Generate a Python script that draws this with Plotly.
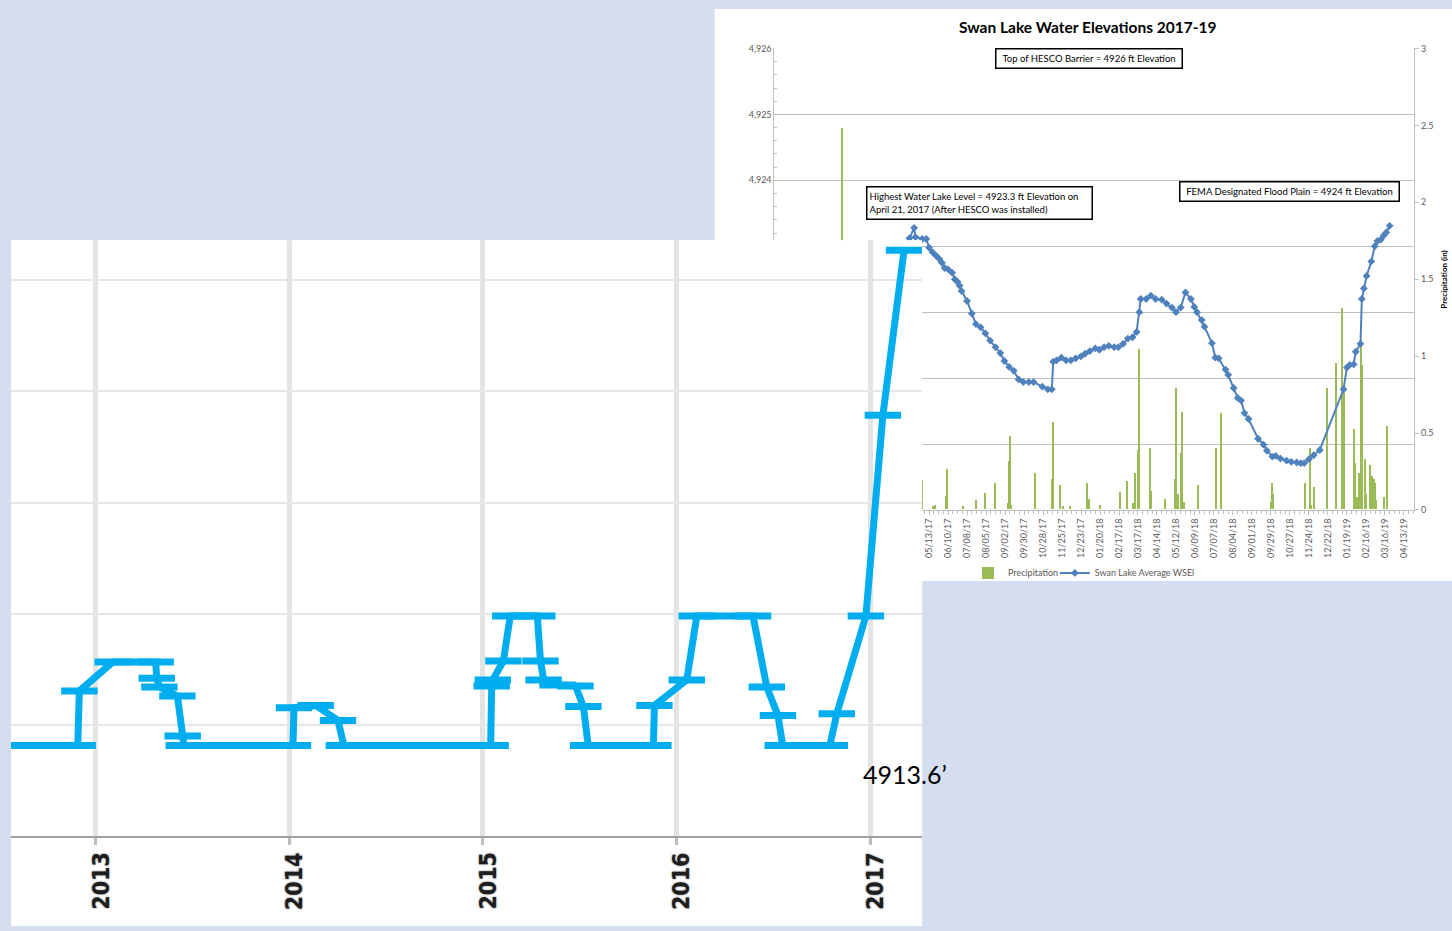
import plotly.graph_objects as go

W, H = 1452, 931


def px(x):
    return x / W


def py(y):
    return 1 - y / H


# ---------------- Right chart: Swan Lake 2017-19 ----------------
wsel_dates = [
    "2017-04-07", "2017-04-14", "2017-04-21", "2017-04-23", "2017-05-03", "2017-05-09",
    "2017-05-13", "2017-05-18", "2017-05-23", "2017-05-28", "2017-06-01", "2017-06-05",
    "2017-06-10", "2017-06-16", "2017-06-20", "2017-06-24", "2017-06-27", "2017-06-30",
    "2017-07-08", "2017-07-15", "2017-07-21", "2017-07-28", "2017-08-04", "2017-08-11",
    "2017-08-19", "2017-08-26", "2017-09-01", "2017-09-08", "2017-09-15", "2017-09-22",
    "2017-09-29", "2017-10-07", "2017-10-14", "2017-10-27", "2017-11-04", "2017-11-10",
    "2017-11-12", "2017-11-17", "2017-11-24", "2017-12-01", "2017-12-08", "2017-12-15",
    "2017-12-23", "2017-12-29", "2018-01-05", "2018-01-13", "2018-01-19", "2018-01-26",
    "2018-02-02", "2018-02-10", "2018-02-16", "2018-02-23", "2018-03-02", "2018-03-09",
    "2018-03-15", "2018-03-19", "2018-03-21", "2018-03-29", "2018-04-05", "2018-04-12",
    "2018-04-21", "2018-04-28", "2018-05-06", "2018-05-12", "2018-05-19", "2018-05-26",
    "2018-06-03", "2018-06-08", "2018-06-12", "2018-06-19", "2018-06-23", "2018-07-04",
    "2018-07-09", "2018-07-14", "2018-07-24", "2018-07-28", "2018-08-05", "2018-08-11",
    "2018-08-16", "2018-08-21", "2018-08-27", "2018-09-10", "2018-09-18", "2018-09-23",
    "2018-10-01", "2018-10-06", "2018-10-13", "2018-10-22", "2018-10-29", "2018-11-06",
    "2018-11-12", "2018-11-17", "2018-11-24", "2018-12-01", "2018-12-10", "2019-01-14",
    "2019-01-19", "2019-01-23", "2019-01-29", "2019-02-01", "2019-02-08", "2019-02-10",
    "2019-02-13", "2019-02-17", "2019-02-24", "2019-03-01", "2019-03-05", "2019-03-10",
    "2019-03-14", "2019-03-18", "2019-03-23",
]
wsel_ft = [
    4922.95, 4923.12, 4923.28, 4923.14, 4923.11, 4923.11,
    4922.98, 4922.91, 4922.86, 4922.81, 4922.75, 4922.67,
    4922.65, 4922.60, 4922.50, 4922.46, 4922.40, 4922.32,
    4922.17, 4921.98, 4921.82, 4921.77, 4921.68, 4921.57,
    4921.47, 4921.38, 4921.26, 4921.17, 4921.11, 4920.98,
    4920.94, 4920.94, 4920.94, 4920.87, 4920.83, 4920.83,
    4921.25, 4921.27, 4921.31, 4921.27, 4921.27, 4921.30,
    4921.33, 4921.37, 4921.41, 4921.45, 4921.43, 4921.47,
    4921.49, 4921.47, 4921.47, 4921.52, 4921.60, 4921.62,
    4921.70, 4922.00, 4922.20, 4922.20, 4922.25, 4922.20,
    4922.19, 4922.13, 4922.07, 4922.00, 4922.07, 4922.30,
    4922.20, 4922.08, 4922.00, 4921.88, 4921.78, 4921.53,
    4921.31, 4921.30, 4921.13, 4921.05, 4920.85, 4920.70,
    4920.66, 4920.47, 4920.38, 4920.08, 4919.99, 4919.90,
    4919.81, 4919.82, 4919.78, 4919.75, 4919.73, 4919.72,
    4919.71, 4919.71, 4919.77, 4919.83, 4919.91, 4920.83,
    4921.16, 4921.20, 4921.21, 4921.40, 4921.52, 4922.20,
    4922.36, 4922.55, 4922.77, 4923.00, 4923.08, 4923.10,
    4923.16, 4923.21, 4923.31,
]

precip_dates = [
    "2016-10-08", "2016-10-24", "2016-11-18", "2016-12-15", "2017-01-05", "2017-01-20",
    "2017-02-07", "2017-03-05", "2017-03-24", "2017-04-10", "2017-05-03", "2017-05-20",
    "2017-05-23", "2017-06-08", "2017-06-09", "2017-07-02", "2017-07-22", "2017-08-04",
    "2017-08-19", "2017-09-07", "2017-09-09", "2017-09-10", "2017-09-12", "2017-10-17",
    "2017-11-11", "2017-11-12", "2017-11-23", "2017-11-27", "2017-12-08", "2018-01-01",
    "2018-01-02", "2018-01-04", "2018-01-20", "2018-02-19", "2018-03-01", "2018-03-11",
    "2018-03-13", "2018-03-18", "2018-03-19", "2018-04-04", "2018-04-06", "2018-04-27",
    "2018-05-11", "2018-05-13", "2018-05-15", "2018-05-20", "2018-05-22", "2018-05-24",
    "2018-06-14", "2018-07-11", "2018-07-18", "2018-09-30", "2018-10-01", "2018-10-02",
    "2018-11-19", "2018-11-26", "2018-11-28", "2018-12-02", "2018-12-21", "2019-01-04",
    "2019-01-12", "2019-01-13", "2019-01-16", "2019-01-30", "2019-02-01", "2019-02-04",
    "2019-02-07", "2019-02-10", "2019-02-11", "2019-02-15", "2019-02-17", "2019-02-23",
    "2019-02-26", "2019-02-28", "2019-03-02", "2019-03-04", "2019-03-16", "2019-03-20",
]
precip_in = [
    0.35, 0.15, 0.22, 0.45, 2.48, 0.30,
    0.55, 0.40, 0.25, 0.30, 0.19, 0.02,
    0.03, 0.09, 0.26, 0.02, 0.06, 0.11,
    0.175, 0.04, 0.315, 0.477, 0.03, 0.24,
    0.20, 0.567, 0.156, 0.02, 0.02, 0.09,
    0.175, 0.07, 0.03, 0.115, 0.186, 0.04,
    0.24, 0.385, 1.045, 0.40, 0.12, 0.07,
    0.20, 0.79, 0.10, 0.37, 0.636, 0.05,
    0.156, 0.40, 0.63, 0.05, 0.175, 0.10,
    0.175, 0.40, 0.03, 0.146, 0.79, 0.95,
    1.31, 0.12, 0.79, 0.525, 0.30, 0.08,
    0.24, 1.10, 0.94, 0.33, 0.10, 0.29,
    0.22, 0.20, 0.17, 0.06, 0.08, 0.545,
]

# ---------------- Left chart: lake level 2012-2017 ----------------
hist_dates = [
    "2012-07-25", "2012-11-28", "2012-12-01", "2013-02-02", "2013-04-24", "2013-04-26",
    "2013-05-01", "2013-06-04", "2013-06-14", "2013-06-16", "2014-01-08", "2014-01-10",
    "2014-02-20", "2014-04-03", "2014-04-14", "2015-01-16", "2015-01-18", "2015-01-20",
    "2015-02-09", "2015-02-22", "2015-04-14", "2015-04-20", "2015-04-26", "2015-05-22",
    "2015-06-25", "2015-07-10", "2015-07-19", "2015-11-19", "2015-11-21", "2016-01-21",
    "2016-02-09", "2016-05-25", "2016-06-20", "2016-07-11", "2016-07-20", "2016-10-17",
    "2016-10-30", "2016-12-24", "2017-01-25", "2017-03-06",
]
hist_ft = [
    4913.63, 4913.63, 4914.61, 4915.13, 4915.13, 4914.84,
    4914.68, 4914.52, 4913.80, 4913.63, 4913.63, 4914.31,
    4914.35, 4914.08, 4913.63, 4913.63, 4914.70, 4914.81,
    4915.15, 4915.96, 4915.96, 4915.15, 4914.81, 4914.72,
    4914.70, 4914.33, 4913.63, 4913.63, 4914.35, 4914.81,
    4915.96, 4915.96, 4914.68, 4914.17, 4913.63, 4913.63,
    4914.20, 4915.96, 4919.57, 4922.54,
]
year_ticks = ["2013-01-01", "2014-01-01", "2015-01-01", "2016-01-01", "2017-01-01"]
year_labels = ["2013", "2014", "2015", "2016", "2017"]

BG = "#D5DDF0"
GRID = "#BFBFBF"
TXT = "#595959"
FONT = "Lato, 'Open Sans', sans-serif"

fig = go.Figure()

fig.add_trace(go.Bar(
    x=precip_dates, y=precip_in, name="Precipitation",
    xaxis="x", yaxis="y", legend="legend",
    marker=dict(color="#9BBB59", line=dict(width=0)),
    width=1.7 * 86400000,
))
fig.add_trace(go.Scatter(
    x=wsel_dates, y=wsel_ft, name="Swan Lake Average WSEl",
    xaxis="x", yaxis="y2", mode="lines+markers", legend="legend2",
    line=dict(color="#4F81BD", width=2),
    marker=dict(symbol="diamond", size=6, color="#4F81BD"),
))
fig.add_trace(go.Scatter(
    x=hist_dates, y=hist_ft, xaxis="x3", yaxis="y3", mode="lines+markers",
    showlegend=False,
    line=dict(color="#00AEEF", width=7),
    marker=dict(symbol="line-ew", size=26, line=dict(width=7, color="#00AEEF")),
))

legend_common = dict(
    orientation="h", xanchor="left", yanchor="top",
    font=dict(size=9, color=TXT, family=FONT), bgcolor="rgba(0,0,0,0)",
    itemwidth=30,
)

fig.update_layout(
    width=W, height=H, margin=dict(l=0, r=0, t=0, b=0), autosize=False,
    paper_bgcolor=BG, plot_bgcolor="white",
    font=dict(family=FONT, color=TXT, size=9),
    bargap=0,
    xaxis=dict(
        domain=[px(773), px(1414)], anchor="y", type="date",
        range=["2016-09-27", "2019-04-28"],
        tick0="2017-05-13", dtick=28 * 86400000, tickformat="%m/%d/%y",
        tickangle=-90, tickfont=dict(size=9, color=TXT, family=FONT),
        ticks="outside", ticklen=4, tickcolor=GRID,
        minor=dict(dtick=7 * 86400000, tick0="2017-05-13", ticks="outside", ticklen=3, tickcolor=GRID),
        showline=True, linecolor=GRID, linewidth=1, showgrid=False, zeroline=False,
    ),
    yaxis=dict(
        domain=[py(510), py(43)], anchor="x", side="right",
        range=[0, 3], dtick=0.5, showgrid=False, zeroline=False,
        ticks="outside", ticklen=4, tickcolor=GRID,
        showline=True, linecolor=GRID, linewidth=1,
        tickfont=dict(size=9, color=TXT, family=FONT),
    ),
    yaxis2=dict(
        overlaying="y", anchor="x", side="left",
        range=[4919, 4926], dtick=1, tickformat=",d",
        showgrid=True, gridcolor=GRID, gridwidth=1, zeroline=False,
        showline=True, linecolor=GRID, linewidth=1,
        ticks="", minor=dict(dtick=0.2, ticks="inside", ticklen=3, tickcolor=GRID),
        tickfont=dict(size=9, color=TXT, family=FONT),
    ),
    xaxis3=dict(
        domain=[px(8), px(921)], anchor="y3", type="date",
        range=["2012-07-25", "2017-04-09"],
        tickvals=year_ticks, showticklabels=False,
        ticks="outside", ticklen=7, tickwidth=3, tickcolor="#BDBDBD",
        showline=True, linecolor="#A0A0A0", linewidth=2,
        showgrid=True, gridcolor="#E4E4E4", gridwidth=5, zeroline=False,
    ),
    yaxis3=dict(
        domain=[py(840), py(237)], anchor="x3",
        range=[4912, 4922.72], tick0=4912, dtick=2,
        showticklabels=False, ticks="", showgrid=True,
        gridcolor="#E6E6E6", gridwidth=1.5, zeroline=False, showline=False,
    ),
    legend=dict(legend_common, x=px(967), y=py(559)),
    legend2=dict(legend_common, x=px(1054), y=py(559)),
    shapes=[
        dict(type="rect", xref="paper", yref="paper", layer="below",
             x0=px(713), x1=px(1452), y0=py(582), y1=py(3),
             fillcolor="white", line=dict(width=0)),
        dict(type="rect", xref="paper", yref="paper", layer="below",
             x0=px(8), x1=px(921), y0=py(931), y1=py(237),
             fillcolor="white", line=dict(width=0)),
    ],
)

box = dict(xref="paper", yref="paper", showarrow=False, bgcolor="white",
           bordercolor="#000000", borderwidth=1.5, borderpad=2,
           font=dict(size=9.5, color="#000000", family=FONT))
annotations = [
    dict(text="<b>Swan Lake Water Elevations 2017-19</b>", x=px(1087), y=py(21),
         xref="paper", yref="paper", showarrow=False, xanchor="center", yanchor="middle",
         font=dict(size=15.5, color="#000000", family=FONT)),
    dict(box, text="Top of HESCO Barrier = 4926 ft Elevation", x=px(994), y=py(43),
         xanchor="left", yanchor="top", width=181, height=14, align="center"),
    dict(box, text="Highest Water Lake Level = 4923.3 ft Elevation on<br>April 21, 2017 (After HESCO was installed)",
         x=px(865), y=py(182), xanchor="left", yanchor="top", width=220, height=27, align="left"),
    dict(box, text="FEMA Designated Flood Plain = 4924 ft Elevation", x=px(1178), y=py(177),
         xanchor="left", yanchor="top", width=214, height=14, align="center"),
    dict(text="<b>Precipitation (in)</b>", x=px(1444), y=py(277), xref="paper", yref="paper",
         showarrow=False, textangle=-90, xanchor="center", yanchor="middle",
         font=dict(size=8, color="#000000", family=FONT)),
    dict(text="4913.6\u2019", x=px(904), y=py(777), xref="paper", yref="paper",
         showarrow=False, xanchor="center", yanchor="middle",
         font=dict(size=25, color="#000000", family="Lato, 'Open Sans', sans-serif")),
]
for d, t in zip(year_ticks, year_labels):
    annotations.append(dict(
        text="<b>%s</b>" % t, x=d, xref="x3", y=py(854), yref="paper",
        xanchor="center", yanchor="top", textangle=-90, xshift=5, showarrow=False,
        font=dict(size=23, color="#1E1E1E",
                  family="'DejaVu Sans Condensed', 'Liberation Sans', sans-serif",
                  shadow="0px 0px 2px rgba(0,0,0,0.6)"),
    ))
fig.update_layout(annotations=annotations)

fix_page = (
    "document.documentElement.style.margin='0';"
    "document.documentElement.style.padding='0';"
    "document.documentElement.style.overflow='hidden';"
    "document.body.style.margin='0';"
    "document.body.style.padding='0';"
    "document.body.style.overflow='hidden';"
    "var gd=document.getElementById('{plot_id}');"
    "gd.style.position='absolute';gd.style.left='0px';gd.style.top='0px';"
)
fig.write_html("out.html", include_plotlyjs=True, full_html=True,
               config={"displayModeBar": False}, post_script=fix_page)
